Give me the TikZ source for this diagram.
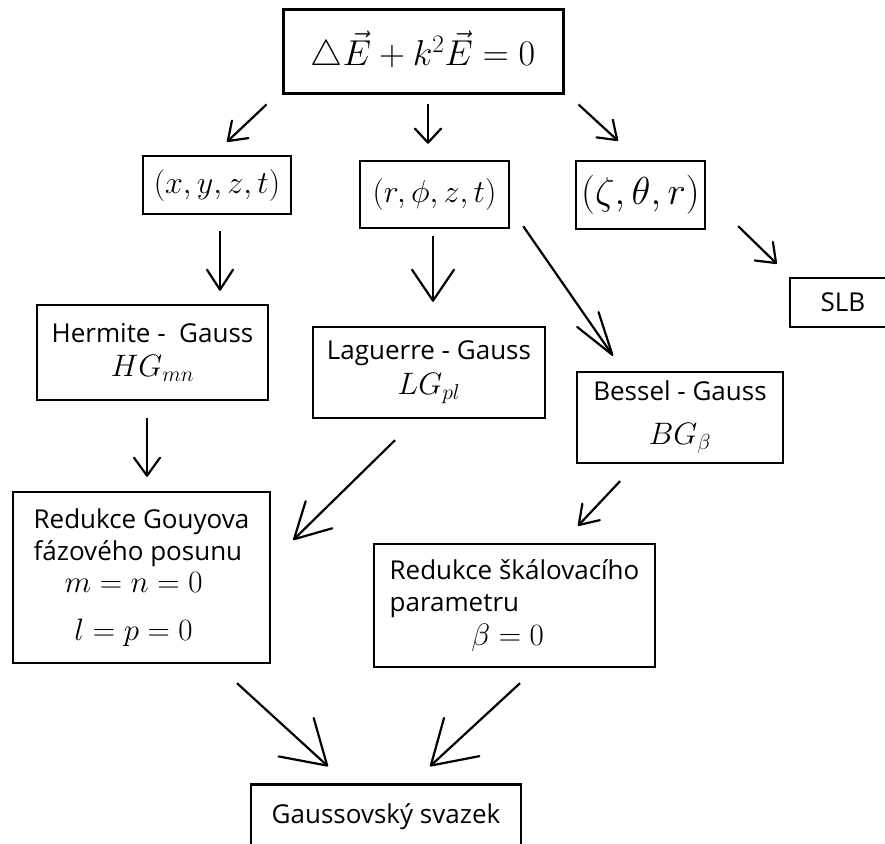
\RequirePackage{fix-cm}
\documentclass[tikz,border=0pt]{standalone}
\usepackage{fontspec}
\newfontfamily\labelfont{Open Sans}
\usetikzlibrary{arrows.meta}
\newcommand\mathbig[2][31]{{\fontsize{#1}{#1}\selectfont$#2$}}

\begin{document}
\begin{tikzpicture}[x=1pt, y=-1pt,
    box/.style={draw, line width=2.4pt, inner sep=0pt, align=center,
      font=\labelfont\fontsize{26}{32}\selectfont},
    link/.style 2 args={line width=2.2pt, -{Straight Barb[length=#1pt, width=#2pt, round]}}]
  \clip (0,0) rectangle (885,843);
  % rovnice a souradnice
  \node [box, line width=3pt, minimum width=280pt, minimum height=83pt] (eq) at (423,51.5) {\mathbig[36]{\triangle\vec{E}+k^2\vec{E}=0}};
  \node [box, minimum width=148pt, minimum height=58pt] (xyzt) at (217,185) {\mathbig[32]{(x,y,z,t)}};
  \node [box, minimum width=149pt, minimum height=67pt] (rphi) at (434.5,194.5) {\mathbig[32]{(r,\phi,z,t)}};
  \node [box, minimum width=129pt, minimum height=68pt] (zeta) at (640.5,195) {\mathbig[39]{(\zeta,\theta,r)}};
  % svazky
  \node [box, minimum width=106pt, minimum height=49pt] (slb) at (843,302.5) {SLB};
  \node [box, minimum width=231pt, minimum height=95pt] (hg) at (152.5,352.5) {Hermite -\ \ Gauss\\[2pt] \mathbig{HG_{mn}}};
  \node [box, minimum width=232pt, minimum height=91pt] (lg) at (429,372.5) {Laguerre - Gauss\\[3pt] \mathbig{LG_{pl}}};
  \node [box, minimum width=206pt, minimum height=91pt] (bg) at (680,417.5) {Bessel - Gauss\\[12pt] \mathbig{BG_\beta}};
  % redukce
  \node [box, align=left, minimum width=257pt, minimum height=171pt] (gouy) at (141.5,577.5)
    {Redukce Gouyova\\ fázového posunu\\ \makebox[200pt]{\mathbig{m=n=0}}\\[16pt] \makebox[200pt]{\mathbig{l=p=0}}};
  \node [box, align=left, minimum width=281pt, minimum height=123pt] (skal) at (514.5,605.5)
    {Redukce škálovacího\\ parametru\\[2pt] \makebox[236pt]{\mathbig{\beta=0}}};
  \node [box, minimum width=270pt, minimum height=65pt] (gauss) at (386,817) {Gaussovský svazek};
  % sipky
  \draw [link={17}{24}] ([shift={(-15,10)}]eq.south west) -- ([shift={(10,-13)}]xyzt.north);
  \draw [link={14}{26}] ([shift={(5,9)}]eq.south) -- ([shift={(-6.5,-16)}]rphi.north);
  \draw [link={17}{24}] ([shift={(14,10)}]eq.south east) -- ([shift={(-22.5,-19)}]zeta.north);
  \draw [link={20}{26}] ([shift={(3,16)}]xyzt.south) -- ([shift={(67.5,-13)}]hg.north);
  \draw [link={31}{42}] ([shift={(-1.5,7)}]rphi.south) -- ([shift={(4,-24)}]lg.north);
  \draw [link={43}{26}] ([shift={(13,-3)}]rphi.south east) -- ([shift={(-67,-15)}]bg.north);
  \draw [link={17}{26}] ([shift={(32,-4)}]zeta.south east) -- ([shift={(-12,-13)}]slb.north west);
  \draw [link={18}{26}] ([shift={(-5.5,17)}]hg.south) -- ([shift={(5.5,-14)}]gouy.north);
  \draw [link={35}{38}] ([shift={(-34,21)}]lg.south) -- ([shift={(22,-37.5)}]gouy.east);
  \draw [link={18}{24}] ([shift={(-60,17)}]bg.south) -- ([shift={(63.5,-17)}]skal.north);
  \draw [link={42}{52}] ([shift={(95.5,19)}]gouy.south) -- ([shift={(-58,-17)}]gauss.north);
  \draw [link={42}{52}] ([shift={(5.5,15)}]skal.south) -- ([shift={(44,-17)}]gauss.north);
\end{tikzpicture}
\end{document}
